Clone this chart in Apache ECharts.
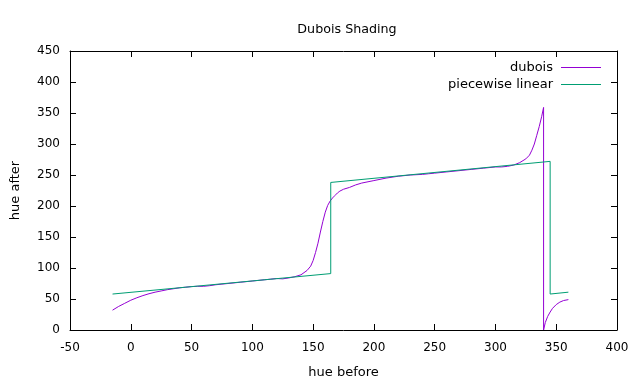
<!DOCTYPE html>
<html>
<head>
<meta charset="utf-8">
<script src="https://cdn.jsdelivr.net/npm/echarts@6/dist/echarts.min.js"></script>
<style>html,body{margin:0;padding:0;background:#fff}#c{width:640px;height:384px}</style>
</head>
<body>
<div id="c"></div>
<script>
const titleText = "Dubois Shading";
const xName = "hue before";
const yName = "hue after";
const seriesNames = ["dubois", "piecewise linear"];

const duboisX = [-15,-10,-5,0,5,10,15,20,25,30,35,40,45,50,55,60,65,70,75,80,90,100,110,115,120,125,130,135,140,145,148,150,152,154,156,158,160,162,164,166,168,170,172,175,180,185,190,200,210,220,230,240,245,250,260,270,280,290,300,305,310,315,320,325,328,330,332,334,336,338,339.6,339.6,341,343,345,347,350,353,356,360];
const duboisY = [32,38,43,48,52,55.5,58.5,61,63,65,66.5,68,69,70,70.5,70.5,71.5,73,74,75,77,79,81,82,83,82.5,84,86,89,96,103,112,125,140,158,175,190,201,208,213,217,221,224,227,230,234,237,241,245,248,250,251,252,253,255,257,259,261,263,263,264,266,270,276,282,290,300,314,328,344,359,0,12,22,29,35,41,45,47.5,49];

const linX = [-15,164.5,164.5,345,345,360];
const linY = [58,91,238,272,58,61];

const zip = (a,b) => a.map((v,i)=>[v,b[i]]);
const font = 'DejaVu Sans';

const chart = echarts.init(document.getElementById('c'), null, {renderer:'canvas'});
const axisCommon = {
  axisLine:{show:true,onZero:false,lineStyle:{color:'#000',width:1}},
  axisTick:{show:true,inside:true,length:6,lineStyle:{color:'#000',width:1}},
  splitLine:{show:false}
};
chart.setOption({
  animation:false,
  backgroundColor:'#fff',
  title:{text:titleText,left:342,textAlign:'center',top:18,textStyle:{fontFamily:font,fontSize:12.7,fontWeight:'normal',color:'#000'}},
  legend:{
    orient:'vertical',right:34,top:56,align:'right',itemWidth:40,itemHeight:1,itemGap:4,icon:'rect',
    textStyle:{fontFamily:font,fontSize:13,color:'#000',padding:[0,3,0,0]},
    data:seriesNames
  },
  grid:{left:70,right:23,top:51,bottom:54},
  xAxis:[
    Object.assign({type:'value',min:-50,max:400,interval:50,position:'bottom',
      name:xName,nameLocation:'middle',nameGap:36,nameTextStyle:{fontFamily:font,fontSize:13,color:'#000'},
      axisLabel:{fontFamily:font,fontSize:12,color:'#000',margin:12}},axisCommon),
    Object.assign({type:'value',min:-50,max:400,interval:50,position:'top',axisLabel:{show:false}},axisCommon)
  ],
  yAxis:[
    Object.assign({type:'value',min:0,max:450,interval:50,position:'left',
      name:yName,nameLocation:'middle',nameGap:48,nameRotate:90,nameTextStyle:{fontFamily:font,fontSize:13,color:'#000'},
      axisLabel:{fontFamily:font,fontSize:12,color:'#000',margin:10}},axisCommon),
    Object.assign({type:'value',min:0,max:450,interval:50,position:'right',axisLabel:{show:false}},axisCommon)
  ],
  series:[
    {name:seriesNames[0],type:'line',data:zip(duboisX,duboisY),symbol:'none',smooth:false,
      lineStyle:{color:'#9400d3',width:1},itemStyle:{color:'#9400d3'}},
    {name:seriesNames[1],type:'line',data:zip(linX,linY),symbol:'none',
      lineStyle:{color:'#009e73',width:1},itemStyle:{color:'#009e73'}}
  ]
});
</script>
</body>
</html>
